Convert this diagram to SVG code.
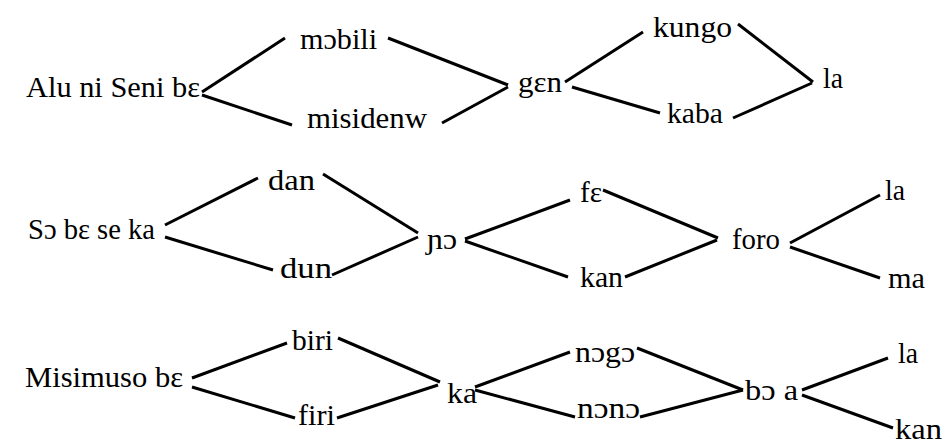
<svg xmlns="http://www.w3.org/2000/svg" width="948" height="444" viewBox="0 0 948 444">
<rect width="948" height="444" fill="#fff"/>
<g id="connectors" stroke="#000" stroke-width="3" fill="none">
<line x1="202" y1="92" x2="285" y2="38"/>
<line x1="202" y1="95" x2="292" y2="125"/>
<line x1="388" y1="38" x2="508" y2="85"/>
<line x1="442" y1="123" x2="508" y2="87"/>
<line x1="565" y1="82" x2="643" y2="32"/>
<line x1="572" y1="87" x2="660" y2="113"/>
<line x1="738" y1="24" x2="813" y2="82"/>
<line x1="733" y1="118" x2="812" y2="83"/>
<line x1="165" y1="225" x2="258" y2="178"/>
<line x1="165" y1="237" x2="273" y2="270"/>
<line x1="323" y1="174" x2="418" y2="233"/>
<line x1="332" y1="275" x2="418" y2="237"/>
<line x1="465" y1="239" x2="570" y2="200"/>
<line x1="465" y1="241" x2="568" y2="277"/>
<line x1="603" y1="190" x2="718" y2="238"/>
<line x1="625" y1="277" x2="717" y2="240"/>
<line x1="790" y1="243" x2="880" y2="195"/>
<line x1="790" y1="247" x2="880" y2="278"/>
<line x1="192" y1="378" x2="287" y2="343"/>
<line x1="192" y1="387" x2="295" y2="418"/>
<line x1="338" y1="338" x2="440" y2="382"/>
<line x1="337" y1="418" x2="438" y2="385"/>
<line x1="475" y1="387" x2="570" y2="352"/>
<line x1="475" y1="390" x2="575" y2="417"/>
<line x1="637" y1="348" x2="743" y2="390"/>
<line x1="640" y1="417" x2="743" y2="390"/>
<line x1="802" y1="390" x2="888" y2="358"/>
<line x1="802" y1="395" x2="893" y2="428"/>
</g>
<g id="n1"><text x="26" y="97" style="font-family:'Liberation Serif',serif;font-size:30px" textLength="174" lengthAdjust="spacingAndGlyphs">Alu ni Seni bɛ</text></g>
<g id="n2"><text x="300" y="49" style="font-family:'Liberation Serif',serif;font-size:30px" textLength="77" lengthAdjust="spacingAndGlyphs">mɔbili</text></g>
<g id="n3"><text x="307" y="128" style="font-family:'Liberation Serif',serif;font-size:30px" textLength="120" lengthAdjust="spacingAndGlyphs">misidenw</text></g>
<g id="n4"><text x="518" y="92" style="font-family:'Liberation Serif',serif;font-size:30px" textLength="44" lengthAdjust="spacingAndGlyphs">gɛn</text></g>
<g id="n5"><text x="653" y="37" style="font-family:'Liberation Serif',serif;font-size:30px" textLength="79" lengthAdjust="spacingAndGlyphs">kungo</text></g>
<g id="n6"><text x="667" y="123" style="font-family:'Liberation Serif',serif;font-size:30px" textLength="56" lengthAdjust="spacingAndGlyphs">kaba</text></g>
<g id="n7"><text x="823" y="88" style="font-family:'Liberation Serif',serif;font-size:30px" textLength="20" lengthAdjust="spacingAndGlyphs">la</text></g>
<g id="n8"><text x="28" y="239" style="font-family:'Liberation Serif',serif;font-size:30px" textLength="127" lengthAdjust="spacingAndGlyphs">Sɔ bɛ se ka</text></g>
<g id="n9"><text x="268" y="190" style="font-family:'Liberation Serif',serif;font-size:30px" textLength="47" lengthAdjust="spacingAndGlyphs">dan</text></g>
<g id="n10"><text x="280" y="278" style="font-family:'Liberation Serif',serif;font-size:30px" textLength="52" lengthAdjust="spacingAndGlyphs">dun</text></g>
<g id="n11"><text x="427" y="249" style="font-family:'Liberation Serif',serif;font-size:30px" textLength="30" lengthAdjust="spacingAndGlyphs">ɲɔ</text></g>
<g id="n12"><text x="580" y="202" style="font-family:'Liberation Serif',serif;font-size:30px" textLength="22" lengthAdjust="spacingAndGlyphs">fɛ</text></g>
<g id="n13"><text x="580" y="287" style="font-family:'Liberation Serif',serif;font-size:30px" textLength="43" lengthAdjust="spacingAndGlyphs">kan</text></g>
<g id="n14"><text x="732" y="249" style="font-family:'Liberation Serif',serif;font-size:30px" textLength="48" lengthAdjust="spacingAndGlyphs">foro</text></g>
<g id="n15"><text x="885" y="200" style="font-family:'Liberation Serif',serif;font-size:30px" textLength="20" lengthAdjust="spacingAndGlyphs">la</text></g>
<g id="n16"><text x="888" y="288" style="font-family:'Liberation Serif',serif;font-size:30px" textLength="37" lengthAdjust="spacingAndGlyphs">ma</text></g>
<g id="n17"><text x="25" y="387" style="font-family:'Liberation Serif',serif;font-size:30px" textLength="158" lengthAdjust="spacingAndGlyphs">Misimuso bɛ</text></g>
<g id="n18"><text x="292" y="350" style="font-family:'Liberation Serif',serif;font-size:30px" textLength="41" lengthAdjust="spacingAndGlyphs">biri</text></g>
<g id="n19"><text x="298" y="425" style="font-family:'Liberation Serif',serif;font-size:30px" textLength="37" lengthAdjust="spacingAndGlyphs">firi</text></g>
<g id="n20"><text x="447" y="403" style="font-family:'Liberation Serif',serif;font-size:30px" textLength="30" lengthAdjust="spacingAndGlyphs">ka</text></g>
<g id="n21"><text x="575" y="362" style="font-family:'Liberation Serif',serif;font-size:30px" textLength="60" lengthAdjust="spacingAndGlyphs">nɔgɔ</text></g>
<g id="n22"><text x="577" y="418" style="font-family:'Liberation Serif',serif;font-size:30px" textLength="63" lengthAdjust="spacingAndGlyphs">nɔnɔ</text></g>
<g id="n23"><text x="745" y="400" style="font-family:'Liberation Serif',serif;font-size:30px" textLength="53" lengthAdjust="spacingAndGlyphs">bɔ a</text></g>
<g id="n24"><text x="898" y="363" style="font-family:'Liberation Serif',serif;font-size:30px" textLength="20" lengthAdjust="spacingAndGlyphs">la</text></g>
<g id="n25"><text x="895" y="439" style="font-family:'Liberation Serif',serif;font-size:30px" textLength="47" lengthAdjust="spacingAndGlyphs">kan</text></g>
</svg>
